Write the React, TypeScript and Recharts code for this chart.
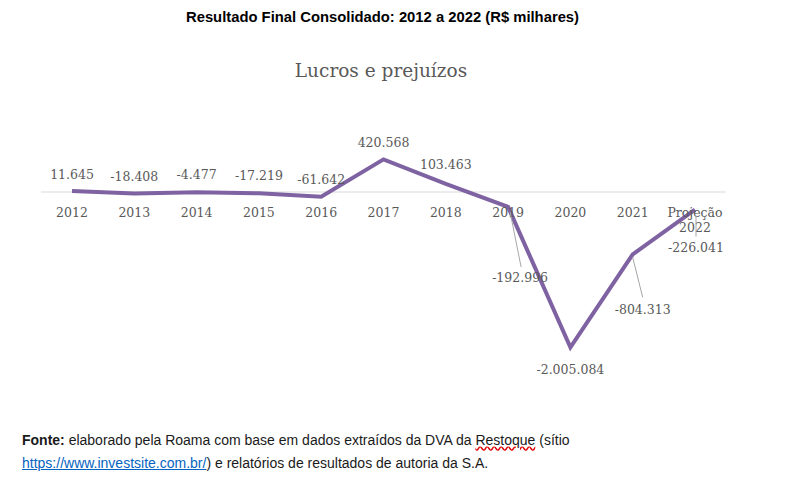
import { LineChart, Line, XAxis, YAxis, ReferenceLine, LabelList } from "recharts";

const categories = [
  "2012",
  "2013",
  "2014",
  "2015",
  "2016",
  "2017",
  "2018",
  "2019",
  "2020",
  "2021",
  "Projeção 2022",
];

// R$ milhares
const resultado = [
  11645, -18408, -4477, -17219, -61642, 420568, 103463, -192996, -2005084,
  -804313, -226041,
];

// flat series on zero, only used to hang the category names under the axis
const baseline = [0, 0, 0, 0, 0, 0, 0, 0, 0, 0, 0];

const data = categories.map((name, i) => ({
  name,
  resultado: resultado[i],
  baseline: baseline[i],
}));

// where each data label sits relative to its point (Excel moved a few by hand)
const labelPos = [
  { dx: 0, dy: -17 },
  { dx: 0, dy: -17 },
  { dx: 0, dy: -18 },
  { dx: 0, dy: -18 },
  { dx: 0, dy: -17 },
  { dx: 0, dy: -17 },
  { dx: 0, dy: -19 },
  { dx: 12, dy: 71, leader: [2, 5, 13, 60] },
  { dx: 0, dy: 22 },
  { dx: 10, dy: 55, leader: [0, 3, 10, 43] },
  { dx: 1, dy: 38, leader: [1, 6, 1, 27] },
];

const fmt = (v: number) => {
  const s = Math.abs(v)
    .toString()
    .replace(/\B(?=(\d{3})+(?!\d))/g, ".");
  return (v < 0 ? "-" : "") + s;
};

const serif = "'DejaVu Serif', serif";
const sans = "'Liberation Sans', Arial, sans-serif";
const grey = "#595959";

function ValueLabel(props: any) {
  const { x, y, value, index } = props;
  const p = labelPos[index] || { dx: 0, dy: -17 };
  return (
    <g>
      {p.leader && (
        <line
          x1={x + p.leader[0]}
          y1={y + p.leader[1]}
          x2={x + p.leader[2]}
          y2={y + p.leader[3]}
          stroke="#a6a6a6"
          strokeWidth={1}
        />
      )}
      <text
        x={x + p.dx}
        y={y + p.dy}
        textAnchor="middle"
        dominantBaseline="central"
        fontFamily={serif}
        fontSize={12.5}
        fill={grey}
      >
        {fmt(value)}
      </text>
    </g>
  );
}

function CategoryLabel(props: any) {
  const { x, y, value } = props;
  const parts = String(value).split(" ");
  return (
    <text
      x={x}
      y={y + 20}
      textAnchor="middle"
      dominantBaseline="central"
      fontFamily={serif}
      fontSize={12.5}
      fill={grey}
    >
      {parts.map((t, i) => (
        <tspan key={i} x={x} dy={i === 0 ? 0 : 15}>
          {t}
        </tspan>
      ))}
    </text>
  );
}

export default function App() {
  return (
    <div
      style={{
        position: "absolute",
        left: 0,
        top: 0,
        width: 787,
        height: 489,
        background: "#fff",
      }}
    >
      <div
        style={{
          position: "absolute",
          top: 9,
          left: 0,
          width: 765,
          textAlign: "center",
          fontFamily: sans,
          fontWeight: "bold",
          fontSize: 14.8,
          color: "#000",
        }}
      >
        Resultado Final Consolidado: 2012 a 2022 (R$ milhares)
      </div>
      <div
        style={{
          position: "absolute",
          top: 60,
          left: 0,
          width: 762,
          textAlign: "center",
          fontFamily: serif,
          fontSize: 18.5,
          color: grey,
        }}
      >
        Lucros e prejuízos
      </div>
      <LineChart
        width={787}
        height={489}
        data={data}
        margin={{ top: 130, right: 61, bottom: 111, left: 41 }}
      >
        <XAxis dataKey="name" hide padding={{ left: 31, right: 31 }} />
        <YAxis hide domain={[-2400000, 800000]} />
        <ReferenceLine y={0} stroke="#d9d9d9" strokeWidth={1} />
        <Line
          dataKey="baseline"
          stroke="none"
          dot={false}
          activeDot={false}
          isAnimationActive={false}
        >
          <LabelList dataKey="name" content={CategoryLabel} />
        </Line>
        <Line
          dataKey="resultado"
          stroke="#7e62a1"
          strokeWidth={4}
          dot={false}
          activeDot={false}
          isAnimationActive={false}
        >
          <LabelList dataKey="resultado" content={ValueLabel} />
        </Line>
      </LineChart>
      <div
        style={{
          position: "absolute",
          left: 22,
          top: 429,
          fontFamily: sans,
          fontSize: 14,
          lineHeight: "23px",
          color: "#1a1a1a",
          whiteSpace: "nowrap",
        }}
      >
        <div>
          <b>Fonte:</b> elaborado pela Roama com base em dados extraídos da DVA
          da{" "}
          <span style={{ textDecoration: "underline wavy #e00000" }}>
            Restoque
          </span>{" "}
          (sítio
        </div>
        <div>
          <span style={{ color: "#0563c1", textDecoration: "underline" }}>
            https://www.investsite.com.br/
          </span>
          ) e relatórios de resultados de autoria da S.A.
        </div>
      </div>
    </div>
  );
}
